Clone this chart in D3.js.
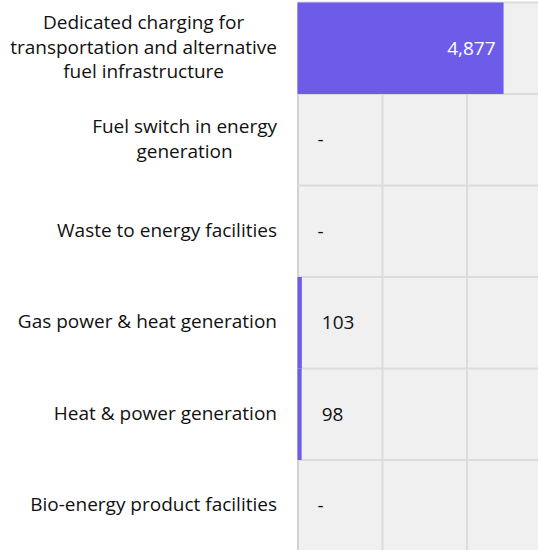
<!DOCTYPE html>
<html>
<head>
<meta charset="utf-8">
<script src="https://cdn.jsdelivr.net/npm/d3@7"></script>
<style>
    body { margin: 0; background: #ffffff; }
    .cat-label { font-family: "Open Sans", sans-serif; font-size: 19px; fill: #111111; }
    .value-label { font-family: "Open Sans", sans-serif; font-size: 19px; }
</style>
</head>
<body>
<div id="chart"></div>
<script>
// Chart data
var categories = [
    "Dedicated charging for|transportation and alternative|fuel infrastructure",
    "Fuel switch in energy|generation",
    "Waste to energy facilities",
    "Gas power & heat generation",
    "Heat & power generation",
    "Bio-energy product facilities"
];
var values = [4877, 0, 0, 103, 98, 0];
var xTicks = [0, 2000, 4000, 6000];

(function() {
    // Dimensions of svg
    var margin = { top: 2.5, right: 0, bottom: 0, left: 297.5 },
        svgWidth = 538,
        svgHeight = 550,
        plotWidth = 253.5,
        plotHeight = 549;

    var data = categories.map(function(c, i) {
        return { category: c, value: values[i] };
    });

    // Scales
    var x = d3.scaleLinear()
        .domain([0, d3.max(xTicks)])
        .range([0, plotWidth]);

    var y = d3.scaleBand()
        .domain(categories)
        .range([0, plotHeight])
        .padding(0);

    var svg = d3.select("#chart").append("svg")
        .attr("width", svgWidth)
        .attr("height", svgHeight);

    var g = svg.append("g")
        .attr("transform", "translate(" + margin.left + "," + margin.top + ")");

    // Plot background
    g.append("rect")
        .attr("x", 0)
        .attr("y", 0)
        .attr("width", plotWidth)
        .attr("height", plotHeight)
        .attr("fill", "#f0f0f0");

    // Vertical grid lines from the x axis ticks
    g.append("g")
        .call(d3.axisTop(x).tickValues(xTicks).tickSize(-plotHeight).tickFormat(""))
        .call(function(ax) {
            ax.select(".domain").remove();
            ax.selectAll(".tick line")
                .attr("stroke", function(d) { return d === 0 ? "#d2d2d2" : "#dcdcdc"; })
                .attr("stroke-width", 2);
        });

    // Horizontal grid lines at band edges
    var edges = categories.map(function(c) { return y(c); }).concat([plotHeight]);
    g.append("g")
        .selectAll("line")
        .data(edges)
        .join("line")
            .attr("x1", 0)
            .attr("x2", plotWidth)
            .attr("y1", d => d)
            .attr("y2", d => d)
            .attr("stroke", "#dcdcdc")
            .attr("stroke-width", 2);

    // Bars
    g.selectAll(".bar")
        .data(data.filter(d => d.value > 0))
        .join("rect")
            .attr("class", "bar")
            .attr("x", x(0))
            .attr("y", d => y(d.category))
            .attr("width", d => x(d.value) - x(0))
            .attr("height", y.bandwidth())
            .attr("fill", "#6c5ce7");

    // Value labels: inside for long bars, outside for short ones, "-" for zero
    g.selectAll(".value-label")
        .data(data)
        .join("text")
            .attr("class", "value-label")
            .attr("x", d => x(d.value) > 60 ? x(d.value) - 8 : x(d.value) + 20)
            .attr("y", d => y(d.category) + y.bandwidth() / 2)
            .attr("dy", "0.35em")
            .attr("text-anchor", d => x(d.value) > 60 ? "end" : "start")
            .attr("fill", d => x(d.value) > 60 ? "#ffffff" : "#111111")
            .text(d => d.value === 0 ? "-" : d3.format(",")(d.value));

    // Category labels, lines centered on each other, block right aligned
    var lineHeight = 24.5;
    g.selectAll(".cat-label")
        .data(data)
        .join("text")
            .attr("class", "cat-label")
            .attr("y", d => y(d.category) + y.bandwidth() / 2 - 1)
            .each(function(d) {
                var text = d3.select(this);
                var lines = d.category.split("|");
                var spans = text.selectAll("tspan")
                    .data(lines)
                    .join("tspan")
                        .attr("dy", (l, i) => i === 0 ? (0.35 - (lines.length - 1) / 2 * lineHeight / 19) + "em" : lineHeight + "px")
                        .text(l => l);
                var widest = 0;
                spans.each(function() { widest = Math.max(widest, this.getComputedTextLength()); });
                var center = -20.5 - widest / 2;
                spans.attr("x", center).attr("text-anchor", "middle");
            });
})();
</script>
</body>
</html>
